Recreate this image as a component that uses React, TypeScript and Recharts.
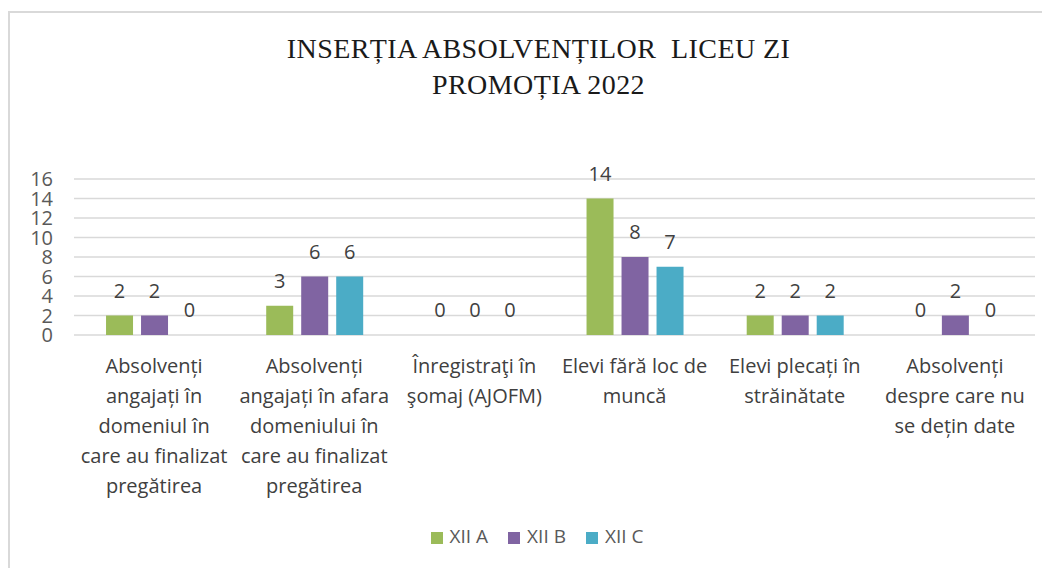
import React from 'react';
import { BarChart, Bar, XAxis, YAxis, CartesianGrid, Legend, LabelList } from 'recharts';

const categories = [
  'Absolvenți angajați în domeniul în care au finalizat pregătirea',
  'Absolvenți angajați în afara domeniului în care au finalizat pregătirea',
  'Înregistraţi în şomaj (AJOFM)',
  'Elevi fără loc de muncă',
  'Elevi plecați în străinătate',
  'Absolvenți despre care nu se dețin date',
];
const xiiA = [2, 3, 0, 14, 2, 0];
const xiiB = [2, 6, 0, 8, 2, 2];
const xiiC = [0, 6, 0, 7, 2, 0];
const yTicks = [0, 2, 4, 6, 8, 10, 12, 14, 16];

const data = categories.map((name, i) => ({
  name,
  'XII A': xiiA[i],
  'XII B': xiiB[i],
  'XII C': xiiC[i],
}));

const FONT = '"Open Sans", sans-serif';
const TICK_FONT_SIZE = 20;

let ctx: CanvasRenderingContext2D | null = null;
function measure(s: string) {
  if (!ctx) ctx = document.createElement('canvas').getContext('2d');
  if (!ctx) return s.length * 10;
  ctx.font = `${TICK_FONT_SIZE}px "Open Sans"`;
  return ctx.measureText(s).width;
}

// word wrap for the long category names
function wrap(label: string, maxWidth: number) {
  const lines: string[] = [];
  let cur = '';
  for (const w of label.split(' ')) {
    const next = cur ? cur + ' ' + w : w;
    if (cur && measure(next) > maxWidth) {
      lines.push(cur);
      cur = w;
    } else {
      cur = next;
    }
  }
  if (cur) lines.push(cur);
  return lines;
}

function CategoryTick(props: any) {
  const { x, y, payload } = props;
  const lines = wrap(String(payload.value), 153);
  return (
    <text x={x} y={y + 38} textAnchor="middle" fill="#404040" fontSize={TICK_FONT_SIZE} fontFamily={FONT}>
      {lines.map((l, i) => (
        <tspan key={i} x={x} dy={i === 0 ? 0 : 30}>
          {l}
        </tspan>
      ))}
    </text>
  );
}

const legendText = (value: string) => (
  <span style={{ color: '#595959', fontSize: 19, fontFamily: FONT, marginLeft: 3, marginRight: 10 }}>{value}</span>
);

export default function App() {
  return (
    <div style={{ position: 'absolute', left: 0, top: 0, width: 1042, height: 568, overflow: 'hidden', background: '#fff' }}>
      <div
        style={{
          position: 'absolute',
          left: 8,
          top: 11,
          width: 1100,
          height: 700,
          border: '2px solid #d9d9d9',
        }}
      />
      <div
        style={{
          position: 'absolute',
          left: 0,
          top: 31,
          width: 1077,
          textAlign: 'center',
          fontFamily: '"Liberation Serif", "Times New Roman", serif',
          fontSize: 28,
          letterSpacing: 0.4,
          lineHeight: '36px',
          color: '#1a1a1a',
        }}
      >
        INSERȚIA ABSOLVENȚILOR&nbsp; LICEU ZI
        <br />
        PROMOȚIA 2022
      </div>
      <div style={{ position: 'absolute', left: 0, top: 0 }}>
        <BarChart
          width={1042}
          height={568}
          data={data}
          margin={{ top: 179, right: 7, left: 0, bottom: 19 }}
          barCategoryGap="20%"
          barGap={8}
        >
          <CartesianGrid vertical={false} stroke="#d9d9d9" strokeWidth={1.5} />
          <XAxis
            dataKey="name"
            axisLine={false}
            tickLine={false}
            tickSize={0}
            tickMargin={0}
            interval={0}
            height={188}
            tick={<CategoryTick />}
          />
          <YAxis
            domain={[0, 16]}
            ticks={yTicks}
            interval={0}
            axisLine={false}
            tickLine={false}
            tickSize={0}
            tickMargin={21}
            width={74}
            tick={{ fill: '#595959', fontSize: 20, fontFamily: FONT }}
          />
          <Legend
            verticalAlign="bottom"
            align="center"
            iconType="square"
            iconSize={12}
            formatter={legendText}
            wrapperStyle={{ fontFamily: FONT, fontSize: 19, left: 0, width: 1094 }}
          />
          <Bar dataKey="XII A" fill="#9BBB59" minPointSize={0.01} isAnimationActive={false}>
            <LabelList dataKey="XII A" position="top" offset={18} fill="#404040" fontSize={20} fontFamily={FONT} />
          </Bar>
          <Bar dataKey="XII B" fill="#8064A2" minPointSize={0.01} isAnimationActive={false}>
            <LabelList dataKey="XII B" position="top" offset={18} fill="#404040" fontSize={20} fontFamily={FONT} />
          </Bar>
          <Bar dataKey="XII C" fill="#4BACC6" minPointSize={0.01} isAnimationActive={false}>
            <LabelList dataKey="XII C" position="top" offset={18} fill="#404040" fontSize={20} fontFamily={FONT} />
          </Bar>
        </BarChart>
      </div>
    </div>
  );
}
